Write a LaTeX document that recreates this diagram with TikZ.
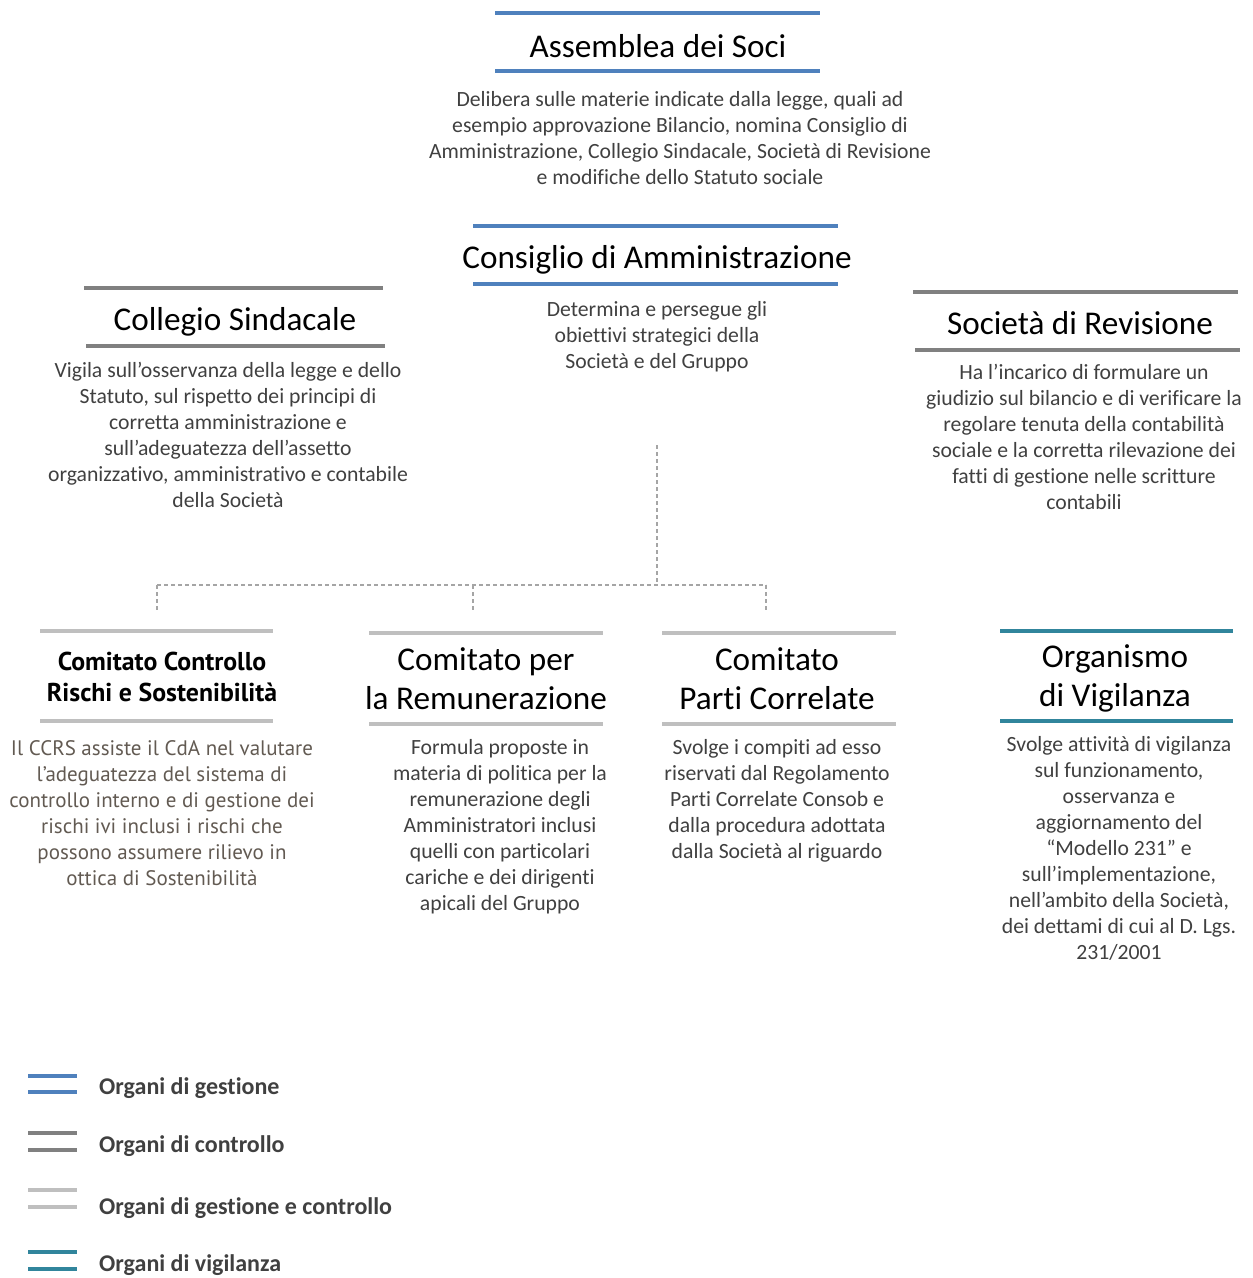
\documentclass[tikz,border=0pt]{standalone}
\usepackage{fontspec}
\setmainfont{Carlito}[Ligatures=NoCommon]
\newfontfamily\myriad{PT Sans}
\definecolor{gestione}{RGB}{79,129,189}
\definecolor{controllo}{RGB}{128,128,128}
\definecolor{gescon}{RGB}{191,191,191}
\definecolor{vigil}{RGB}{49,133,156}
\definecolor{txtgray}{RGB}{64,64,64}
\definecolor{ccrsgray}{RGB}{98,90,82}
\definecolor{conngray}{RGB}{165,165,165}
\tikzset{
  titlebox/.style={font=\fontsize{33.2}{39}\selectfont, align=center, inner sep=0pt, text=black},
  ccrstitle/.style={font=\myriad\bfseries\fontsize{25.8}{31}\selectfont, align=center, inner sep=0pt, text=black},
  descbox/.style={font=\fontsize{21.7}{26}\selectfont, align=center, inner sep=0pt, text=txtgray},
  ccrsdesc/.style={font=\myriad\fontsize{21}{26}\selectfont, align=center, inner sep=0pt, text=ccrsgray},
  legtext/.style={font=\bfseries\fontsize{24}{27}\selectfont, anchor=west, inner sep=0pt, text=txtgray},
  bar/.style={line width=4pt},
  legbar/.style={line width=3.5pt},
  conn/.style={draw=conngray, line width=1.2pt, dash pattern=on 4pt off 3pt},
}
\begin{document}
\begin{tikzpicture}[x=1pt,y=-1pt]
\useasboundingbox (0,0) rectangle (1253,1278);

% Assemblea dei Soci
\draw[bar,gestione] (495,13) -- (820,13);
\draw[bar,gestione] (495,71) -- (820,71);
\node[titlebox] (ass) at (658,46) {Assemblea dei Soci};
\node[descbox] (assd) at (680,138) {Delibera sulle materie indicate dalla legge, quali ad\\esempio approvazione Bilancio, nomina Consiglio di\\Amministrazione, Collegio Sindacale, Società di Revisione\\e modifiche dello Statuto sociale};

% Consiglio di Amministrazione
\draw[bar,gestione] (473,226) -- (838,226);
\draw[bar,gestione] (473,284) -- (838,284);
\node[titlebox] (cda) at (657,260) {Consiglio di Amministrazione};
\node[descbox] (cdad) at (657,337) {Determina e persegue gli\\obiettivi strategici della\\Società e del Gruppo};

% Collegio Sindacale
\draw[bar,controllo] (84,288) -- (383,288);
\draw[bar,controllo] (86,346) -- (385,346);
\node[titlebox] (cs) at (235,322) {Collegio Sindacale};
\node[descbox] (csd) at (228,434.5) {Vigila sull’osservanza della legge e dello\\Statuto, sul rispetto dei principi di\\corretta amministrazione e\\sull’adeguatezza dell’assetto\\organizzativo, amministrativo e contabile\\della Società};

% Società di Revisione
\draw[bar,controllo] (913,292) -- (1238,292);
\draw[bar,controllo] (915,350) -- (1240,350);
\node[titlebox] (sr) at (1080,323) {Società di Revisione};
\node[descbox] (srd) at (1084,436.5) {Ha l’incarico di formulare un\\giudizio sul bilancio e di verificare la\\regolare tenuta della contabilità\\sociale e la corretta rilevazione dei\\fatti di gestione nelle scritture\\contabili};

% Connectors
\coordinate (c0) at (657,445);
\coordinate (j) at (657,585);
\coordinate (jl) at (157,585);
\coordinate (jm) at (473,585);
\coordinate (jr) at (766,585);
\coordinate (d1) at (157,612);
\coordinate (d2) at (473,612);
\coordinate (d3) at (766,612);
\draw[conn] (c0) -- (j);
\draw[conn] (jl) -- (jr);
\draw[conn] (jl) -- (d1);
\draw[conn] (jm) -- (d2);
\draw[conn] (jr) -- (d3);

% Comitato Controllo Rischi e Sostenibilita
\draw[bar,gescon] (40,631) -- (273,631);
\draw[bar,gescon] (40,721) -- (273,721);
\node[ccrstitle] (ccrs) at (162,676.5) {Comitato Controllo\\Rischi e Sostenibilità};
\node[ccrsdesc] (ccrsd) at (162,813) {Il CCRS assiste il CdA nel valutare\\l’adeguatezza del sistema di\\controllo interno e di gestione dei\\rischi ivi inclusi i rischi che\\possono assumere rilievo in\\ottica di Sostenibilità};

% Comitato per la Remunerazione
\draw[bar,gescon] (369,633) -- (603,633);
\draw[bar,gescon] (369,724) -- (603,724);
\node[titlebox] (rem) at (486,678.5) {Comitato per\\la Remunerazione};
\node[descbox] (remd) at (500,827) {Formula proposte in\\materia di politica per la\\remunerazione degli\\Amministratori inclusi\\quelli con particolari\\cariche e dei dirigenti\\apicali del Gruppo};

% Comitato Parti Correlate
\draw[bar,gescon] (662,633) -- (896,633);
\draw[bar,gescon] (662,724) -- (896,724);
\node[titlebox] (pc) at (777,678.5) {Comitato\\Parti Correlate};
\node[descbox] (pcd) at (777,801) {Svolge i compiti ad esso\\riservati dal Regolamento\\Parti Correlate Consob e\\dalla procedura adottata\\dalla Società al riguardo};

% Organismo di Vigilanza
\draw[bar,vigil] (1000,631) -- (1233,631);
\draw[bar,vigil] (1000,721) -- (1233,721);
\node[titlebox] (odv) at (1115,678.5) {Organismo\\di Vigilanza};
\node[descbox] (odvd) at (1119,848.5) {Svolge attività di vigilanza\\sul funzionamento,\\osservanza e\\aggiornamento del\\“Modello 231” e\\sull’implementazione,\\nell’ambito della Società,\\dei dettami di cui al D. Lgs.\\231/2001};

% Legend
\draw[legbar,gestione] (28,1076) -- (77,1076);
\draw[legbar,gestione] (28,1092) -- (77,1092);
\node[legtext] (l1) at (99,1088) {Organi di gestione};
\draw[legbar,controllo] (28,1133) -- (77,1133);
\draw[legbar,controllo] (28,1150) -- (77,1150);
\node[legtext] (l2) at (99,1146) {Organi di controllo};
\draw[legbar,gescon] (28,1190) -- (77,1190);
\draw[legbar,gescon] (28,1207) -- (77,1207);
\node[legtext] (l3) at (99,1208) {Organi di gestione e controllo};
\draw[legbar,vigil] (28,1252) -- (77,1252);
\draw[legbar,vigil] (28,1269) -- (77,1269);
\node[legtext] (l4) at (99,1265.5) {Organi di vigilanza};
\end{tikzpicture}
\end{document}
